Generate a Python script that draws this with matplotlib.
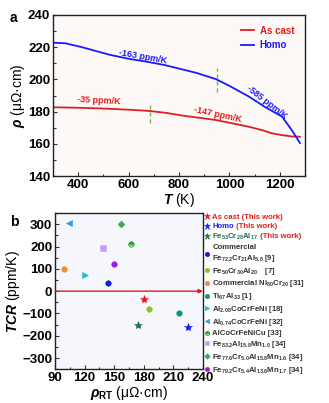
import matplotlib
matplotlib.use('Agg')
import matplotlib.pyplot as plt
from matplotlib.ticker import MultipleLocator

plt.rcParams['font.family'] = ['Liberation Sans', 'DejaVu Sans']
plt.rcParams['font.weight'] = 'bold'
plt.rcParams['mathtext.fontset'] = 'custom'
plt.rcParams['mathtext.rm'] = 'Liberation Sans:bold'
plt.rcParams['mathtext.it'] = 'Liberation Sans:italic:bold'
plt.rcParams['mathtext.bf'] = 'Liberation Sans:bold'

# (a) resistivity vs temperature
T_cast = [300, 400, 500, 600, 684, 750, 815, 880, 946, 1010, 1078, 1130, 1170, 1210, 1248, 1280]
rho_cast = [182.7, 182.4, 181.9, 181.2, 180.4, 179.2, 177.5, 176.2, 174.8, 172.8, 170.6, 168.5, 166.5, 165.4, 164.6, 164.4]
T_homo = [300, 350, 422, 480, 527, 600, 671, 740, 800, 870, 946, 1000, 1078, 1140, 1209, 1250, 1280]
rho_homo = [222.8, 222.4, 219.7, 217.2, 215.2, 212.8, 211.0, 209.0, 206.7, 204.0, 200.2, 196.0, 189.3, 183.0, 176.9, 168.0, 160.5]

# (b) TCR vs room temperature resistivity
names = ['As cast (This work)', 'Homo', 'Fe$_{53}$Cr$_{28}$Al$_{17}$',
         'Commercial\nFe$_{72.2}$Cr$_{21}$Al$_{5.8}$ [9]', 'Fe$_{50}$Cr$_{30}$Al$_{20}$    [7]',
         'Commercial Ni$_{80}$Cr$_{20}$ [31]', 'Ti$_{67}$Al$_{33}$ [1]',
         'Al$_{2.08}$CoCrFeNi [18]', 'Al$_{0.74}$CoCrFeNi [32]', 'AlCoCrFeNiCu [33]',
         'Fe$_{83.2}$Al$_{15.8}$Mn$_{1.0}$ [34]', 'Fe$_{77.6}$Cr$_{5.0}$Al$_{15.8}$Mn$_{1.6}$ [34]',
         'Fe$_{79.2}$Cr$_{5.4}$Al$_{13.6}$Mn$_{1.7}$ [34]']
rho_rt = [180, 225, 174, 144, 185, 99, 216, 120, 104, 167, 139, 157, 150]
tcr = [-35, -163, -150, 36, -78, 101, -96, 72, 305, 210, 192, 300, 122]
colors = ['#e8141c', '#1a1aff', '#1f6e50', '#0a1fe0', '#86c81e', '#f58a2a', '#138f88',
          '#18c0d8', '#2b9cf0', '#2aa02a', '#c99cf5', '#3daa5a', '#9b1fe8']
markers = ['*', '*', '*', 'o', 'o', 'o', 'o', '>', '<', 'o', 's', 'D', 'o']

fig = plt.figure(figsize=(3.29, 4.03), dpi=100)
ax1 = fig.add_axes([0.161, 0.563, 0.766, 0.400])
ax2 = fig.add_axes([0.167, 0.084, 0.450, 0.387])

ax1.set_facecolor('#fdf9f7')
ax2.set_facecolor('#f6f7fc')

l1, = ax1.plot(T_cast, rho_cast, color='#e01e1e', lw=1.3, label='As cast')
l2, = ax1.plot(T_homo, rho_homo, color='#1a1aff', lw=1.3, label='Homo')
ax1.plot([684, 684], [173, 186], color='#7fae5a', lw=1, ls=(0, (3, 2)))
ax1.plot([950, 950], [192, 207], color='#7fae5a', lw=1, ls=(0, (3, 2)))
ax1.text(658, 214.2, '-163 ppm/K', color='#1a1aff', fontsize=6.5, rotation=-10, ha='center', va='center')
ax1.text(481, 186.6, '-35 ppm/K', color='#e01e1e', fontsize=6.5, rotation=-3, ha='center', va='center')
ax1.text(953, 178.3, '-147 ppm/K', color='#e01e1e', fontsize=6.5, rotation=-12, ha='center', va='center')
ax1.text(1150, 185.5, '-585 ppm/K', color='#1a1aff', fontsize=6.5, rotation=-38, ha='center', va='center')
leg1 = ax1.legend(loc='upper right', frameon=False, fontsize=7, handlelength=1.3,
                  handletextpad=0.6, labelspacing=0.5, borderaxespad=0.7)
for txt, c in zip(leg1.get_texts(), ['#e01e1e', '#1a1aff']):
    txt.set_color(c)

ax1.set_xlim(300, 1300)
ax1.set_ylim(140, 240)
ax1.xaxis.set_major_locator(MultipleLocator(200))
ax1.xaxis.set_minor_locator(MultipleLocator(100))
ax1.yaxis.set_major_locator(MultipleLocator(20))
ax1.yaxis.set_minor_locator(MultipleLocator(10))
ax1.set_xlabel('$T$ (K)', fontsize=10, labelpad=0)
ax1.set_ylabel(r'$\rho$ (μΩ·cm)', fontsize=10, labelpad=1)

for i in range(len(names)):
    size = 6 if markers[i] == '*' else 4
    if markers[i] == 'D':
        size = 3.5
    kw = {}
    if names[i].startswith('AlCoCrFeNiCu'):
        kw = dict(fillstyle='top', markerfacecoloralt='#8fd08f')
    ax2.plot(rho_rt[i], tcr[i], ls='none', marker=markers[i], color=colors[i],
             markersize=size, markeredgewidth=0.4, label=names[i], **kw)

ax2.annotate('', xy=(240, 0), xytext=(90, 0),
             arrowprops=dict(arrowstyle='-|>', color='#e01e1e', lw=1.0,
                             mutation_scale=6, shrinkA=0, shrinkB=0))
ax2.set_xlim(90, 240)
ax2.set_ylim(-350, 350)
ax2.xaxis.set_major_locator(MultipleLocator(30))
ax2.xaxis.set_minor_locator(MultipleLocator(15))
ax2.yaxis.set_major_locator(MultipleLocator(100))
ax2.yaxis.set_minor_locator(MultipleLocator(50))
ax2.set_xlabel(r'$\rho_{\mathrm{RT}}$ (μΩ·cm)', fontsize=10, labelpad=0)
ax2.set_ylabel('$TCR$ (ppm/K)', fontsize=10, labelpad=0)

for ax in (ax1, ax2):
    ax.tick_params(which='both', direction='in', labelsize=9.5, width=0.8, color='#333333', pad=2)
    ax.tick_params(which='major', length=3)
    ax.tick_params(which='minor', length=1.8)
    for s in ax.spines.values():
        s.set_linewidth(1.0)
        s.set_color('#222222')

leg_fs = 5.6
leg2 = fig.legend(*ax2.get_legend_handles_labels(), loc='upper left',
                  bbox_to_anchor=(0.622, 0.470), frameon=False, fontsize=leg_fs,
                  handlelength=0.5, handletextpad=0.5, labelspacing=0.24,
                  borderaxespad=0, borderpad=0, markerscale=0.8)
legend_text_colors = ['#e01e1e', '#1a1aff', '#1f6e50'] + ['#333333'] * 10
for txt, c in zip(leg2.get_texts(), legend_text_colors):
    txt.set_color(c)

# red "(This work)" suffix after the Homo and Fe53Cr28Al17 entries
fig.canvas.draw()
inv = fig.transFigure.inverted()
for txt, dy in zip(leg2.get_texts()[1:3], [0, 1.0]):
    bb = txt.get_window_extent()
    x, y = inv.transform((bb.x1, (bb.y0 + bb.y1) / 2 + dy))
    fig.text(x, y, ' (This work)', color='#e01e1e', fontsize=leg_fs, ha='left', va='center')

fig.text(0.03, 0.955, 'a', fontsize=10, ha='left', va='center')
fig.text(0.03, 0.45, 'b', fontsize=10, ha='left', va='center')

fig.savefig('out.png', dpi=100)
